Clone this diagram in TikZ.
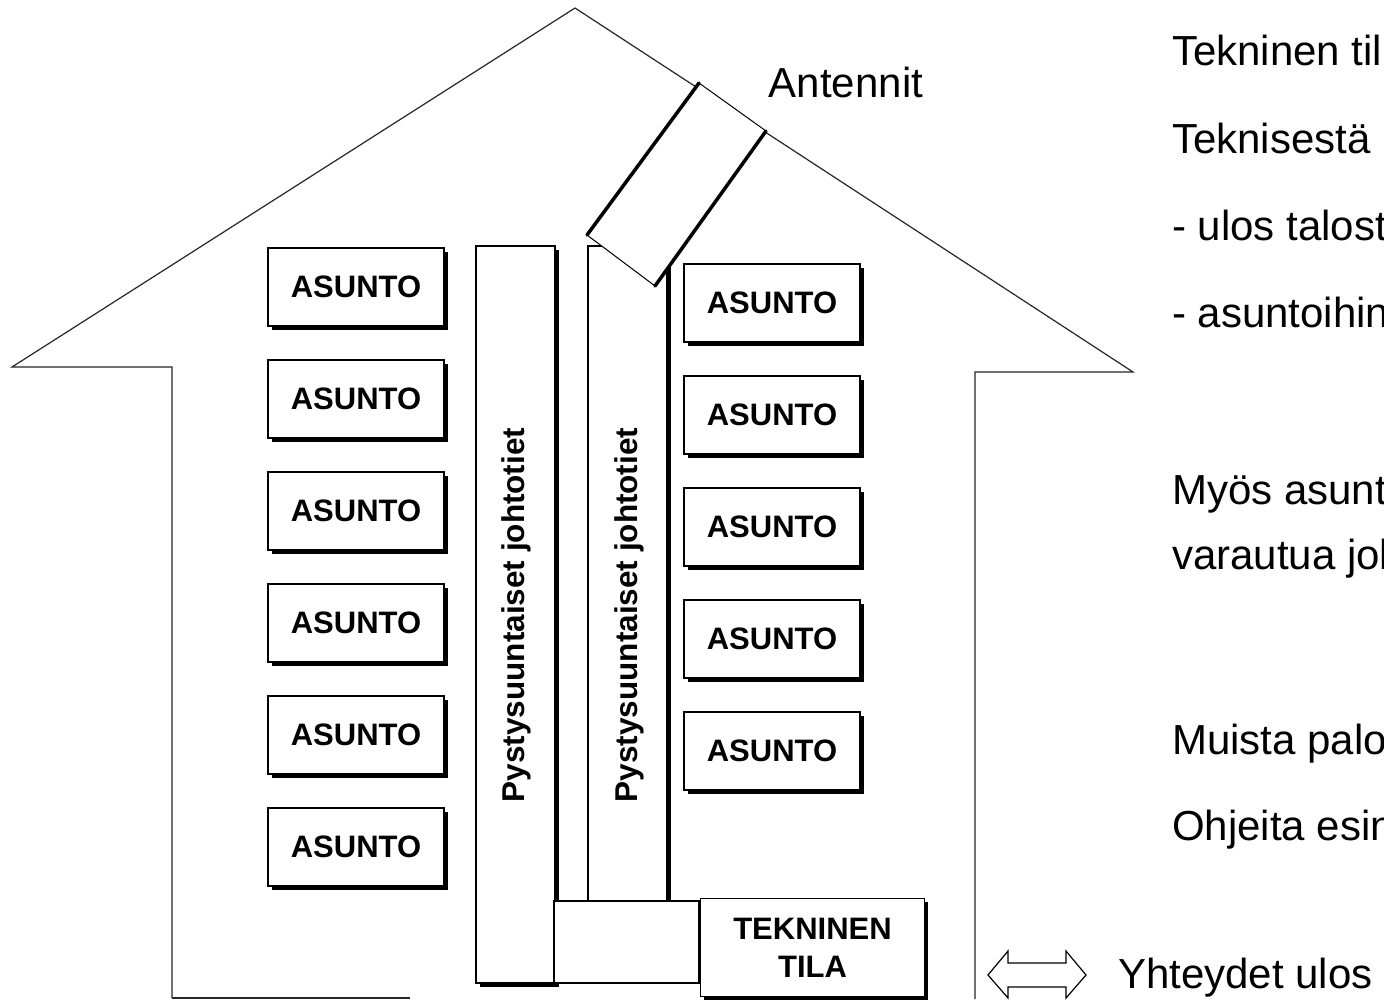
\documentclass[tikz,border=0pt]{standalone}
\usepackage{fontspec}
\setmainfont{Liberation Sans}
\usetikzlibrary{shadows}
\begin{document}
\begin{tikzpicture}[x=1pt,y=-1pt,
  wall/.style={line width=1.2pt,draw=black!85},
  shadowed/.style={draw,line width=1.5pt,fill=white,
    drop shadow={shadow xshift=3.5pt,shadow yshift=-3.5pt,fill=black,opacity=1}},
  asunto/.style={shadowed,minimum width=176pt,minimum height=78pt,inner sep=0pt,
    font=\bfseries\fontsize{31}{31}\selectfont},
  shaft/.style={shadowed,minimum width=79pt,inner sep=0pt},
  shaftlabel/.style={rotate=90,font=\bfseries\fontsize{31.5}{31.5}\selectfont,inner sep=0pt},
  bigtext/.style={font=\fontsize{42}{42}\selectfont,inner sep=0pt,anchor=base west}]
\useasboundingbox (0,0) rectangle (1384,999);
\clip (0,0) rectangle (1384,999);
\fill[white] (0,0) rectangle (1384,999);
% house outline
\draw[wall,line join=miter] (172,998) -- (172,367) -- (12,367) -- (575,8) -- (1133,372) -- (975,372) -- (975,999);
\draw[wall] (172,998) -- (410,998);
% vertical shafts
\node[shaft,minimum height=737pt] (shaftL) at (515.5,614.5) {};
\node[shaft,minimum height=655pt] (shaftR) at (627.5,573.5) {};
\node[shaftlabel] (labL) at (516,615) {Pystysuuntaiset johtotiet};
\node[shaftlabel] (labR) at (629,615) {Pystysuuntaiset johtotiet};
% antenna duct
\coordinate (at) at (699,83);
\coordinate (ar) at (766,131);
\coordinate (ab) at (655,286);
\coordinate (al) at (587,235);
\fill[white] (at) -- (ar) -- (ab) -- (al) -- cycle;
\draw[line width=1pt] (at) -- (ar);
\draw[line width=1pt] (ab) -- (al);
\draw[line width=3.5pt,line cap=round] (al) -- (at);
\draw[line width=3.5pt,line cap=round] (ar) -- (ab);
\node[font=\fontsize{42}{42}\selectfont,inner sep=0pt] (antennit) at (846,82) {Antennit};
% bottom connection box
\node[draw,line width=2.5pt,fill=white,minimum width=145pt,minimum height=82pt,inner sep=0pt] (conn) at (626.5,942) {};
% technical room
\node[shadowed,minimum width=224pt,minimum height=98pt,inner sep=0pt,align=center,
  font=\bfseries\fontsize{31}{38}\selectfont] (tek) at (812.5,947.5) {TEKNINEN\\TILA};
% apartments left
\node[asunto] (a1) at (356,287) {ASUNTO};
\node[asunto] (a2) at (356,399) {ASUNTO};
\node[asunto] (a3) at (356,511) {ASUNTO};
\node[asunto] (a4) at (356,623) {ASUNTO};
\node[asunto] (a5) at (356,735) {ASUNTO};
\node[asunto] (a6) at (356,847) {ASUNTO};
% apartments right
\node[asunto] (b1) at (772,303) {ASUNTO};
\node[asunto] (b2) at (772,415) {ASUNTO};
\node[asunto] (b3) at (772,527) {ASUNTO};
\node[asunto] (b4) at (772,639) {ASUNTO};
\node[asunto] (b5) at (772,751) {ASUNTO};
% side texts
\node[bigtext] (t1) at (1172,65) {Tekninen til};
\node[bigtext] (t2) at (1172,153) {Teknisestä};
\node[bigtext] (t3) at (1172,240) {- ulos talost};
\node[bigtext] (t4) at (1172,327) {- asuntoihin};
\node[bigtext] (t5) at (1172,504) {Myös asunt};
\node[bigtext] (t6) at (1172,569) {varautua jol};
\node[bigtext] (t7) at (1172,754) {Muista palo};
\node[bigtext] (t8) at (1172,840) {Ohjeita esin};
% legend arrow
\draw[line width=1.2pt,line join=miter] (988,975) -- (1008,951) -- (1008,963) -- (1066,963) -- (1066,951) -- (1086,975) -- (1066,998) -- (1066,987) -- (1008,987) -- (1008,998) -- cycle;
\node[bigtext] (legend) at (1118,988) {Yhteydet ulos};
\end{tikzpicture}
\end{document}
